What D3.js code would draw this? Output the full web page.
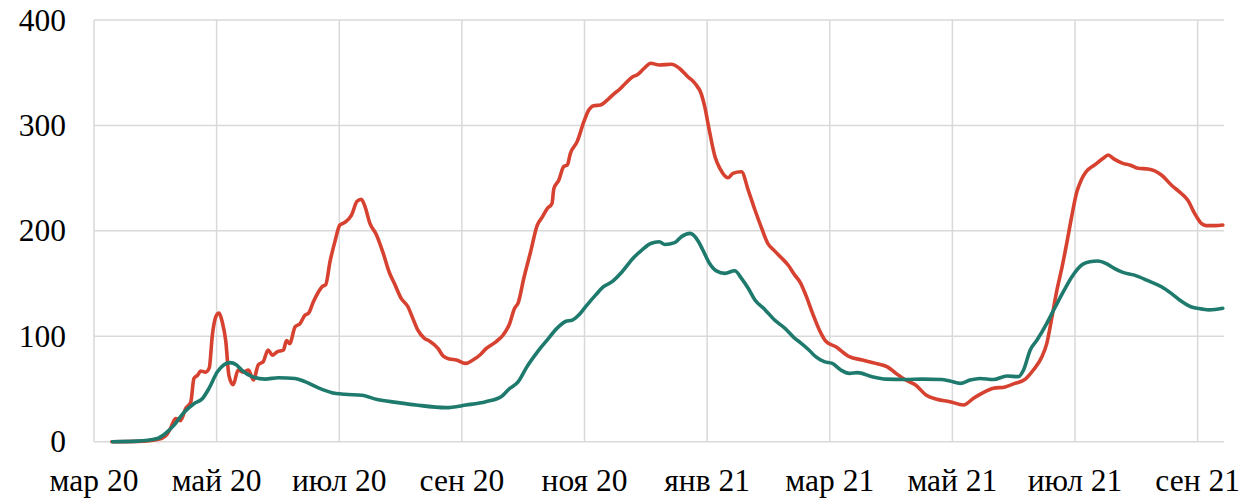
<!DOCTYPE html>
<html>
<head>
<meta charset="utf-8">
<script src="https://cdn.jsdelivr.net/npm/d3@7"></script>
<style>
  html, body { margin: 0; padding: 0; background: #ffffff; }
  svg { display: block; }
  text { font-family: "Liberation Serif", "Times New Roman", Times, serif; }
</style>
</head>
<body>
<svg id="chart" width="1242" height="499"></svg>
<script>
// ---- data ----
// time is expressed in months since 1 March 2020
const tickMonths = [0, 2, 4, 6, 8, 10, 12, 14, 16, 18];
const tickLabels = ["мар 20", "май 20", "июл 20", "сен 20", "ноя 20", "янв 21", "мар 21", "май 21", "июл 21", "сен 21"];
const yTicks = [0, 100, 200, 300, 400];

const redT = [0.29,0.70,0.91,1.03,1.13,1.19,1.25,1.33,1.41,1.50,1.55,1.58,1.63,1.69,1.74,1.82,1.88,1.93,1.99,2.04,2.09,2.15,2.20,2.27,2.35,2.44,2.52,2.60,2.68,2.76,2.84,2.91,2.98,3.09,3.14,3.19,3.28,3.36,3.44,3.50,3.58,3.66,3.72,3.78,3.85,3.93,4.01,4.09,4.20,4.29,4.36,4.42,4.50,4.60,4.71,4.82,4.90,5.01,5.12,5.20,5.28,5.39,5.47,5.61,5.69,5.80,5.91,6.06,6.18,6.29,6.39,6.56,6.67,6.77,6.86,6.92,7.01,7.12,7.23,7.31,7.39,7.47,7.50,7.58,7.66,7.72,7.77,7.88,7.99,8.07,8.15,8.26,8.37,8.48,8.56,8.67,8.78,8.86,8.97,9.08,9.22,9.42,9.55,9.69,9.80,9.91,9.96,10.04,10.13,10.21,10.34,10.42,10.56,10.67,10.78,10.89,10.99,11.10,11.21,11.32,11.43,11.52,11.61,11.72,11.83,11.94,12.10,12.32,12.53,12.75,12.94,13.08,13.24,13.40,13.57,13.73,13.96,14.18,14.34,14.51,14.67,14.86,15.02,15.19,15.32,15.46,15.54,15.62,15.70,15.79,15.87,15.95,16.03,16.10,16.18,16.32,16.46,16.54,16.64,16.78,16.89,17.03,17.19,17.41,17.57,17.73,17.84,17.95,18.06,18.14,18.28,18.41];
const redV = [0,0.3,1,2,4,7,13,22,20,32,35,38,60,63,67,66,70,101,119,122,114,95,63,54,68,66,68,58.5,73,76,87,82,85,87,96,93,109,112,120,122,133,142,147,149,171,190,205.5,208,215,228,230,223,207,197,180,160,150,136,128,117,106,98,95.5,88.5,81.6,78.4,77.5,74.3,77.5,82,88,95,101,110.7,126.5,132,155,180,205.5,213,221,226,240,248,261,262.5,273.5,284.6,303.6,314.6,318.7,319.4,324,330,333.6,340,346,348,354,359,357.3,358,354,346,340,329,318,294,270,259,250.4,254.5,256,238.7,219.8,202.4,188,181,174.5,167.6,158,151,139,121.7,106,95,90,80.6,77.5,74.3,71,64.8,58.5,53.8,44.3,40.5,38,34.8,41,46.8,50.6,52,55.3,59.4,68,80.6,93.3,117,142.3,166,189.7,215,237,248,256,262.5,268.8,272,268,264,262.5,259.3,258.7,253,243.5,235.6,229,216.6,207,205,205,205.5];

const tealT = [0.30,0.70,1.03,1.17,1.31,1.47,1.63,1.77,1.88,2.01,2.12,2.22,2.32,2.41,2.57,2.79,3.01,3.28,3.44,3.66,3.88,4.09,4.37,4.62,4.93,5.25,5.74,6.07,6.39,6.64,6.77,6.92,7.06,7.23,7.39,7.55,7.69,7.80,7.93,8.04,8.18,8.31,8.45,8.61,8.80,8.94,9.08,9.22,9.31,9.47,9.58,9.72,9.86,9.93,10.04,10.15,10.29,10.45,10.56,10.67,10.78,10.94,11.10,11.27,11.43,11.52,11.66,11.77,11.91,12.04,12.18,12.32,12.45,12.69,12.91,13.24,13.51,13.82,13.96,14.13,14.29,14.45,14.67,14.89,15.08,15.16,15.27,15.38,15.54,15.68,15.81,15.95,16.12,16.24,16.37,16.51,16.64,16.78,16.97,17.19,17.41,17.57,17.73,17.89,18.06,18.19,18.41];
const tealV = [0,0.5,3,8,16,28,36,41,51,66,73,75,73,68,62,59.4,60.7,60,57,51,46.5,45,44,40,37.3,34.8,32.3,34.8,38,42.7,50,57,71,85,96.4,107.5,114,115.4,121.7,129.6,139,147,151.8,161,174.5,182,188,189.7,187,188.8,194.5,197.6,189.7,181.8,169,162,159.7,162.2,155,145.5,134.4,125.5,115.4,107.5,98,94,87,80.6,75.9,74.3,68,64.8,65.5,61.7,59.4,59,59.4,59,57.5,55.3,58.5,60,59,62.3,61.7,68,87,96.4,112.3,128,142.3,156.5,168,170.7,171.4,169,164.4,160.6,158,152.7,147,140.7,133.4,128,126,125,126.5];

// ---- drawing ----
const svg = d3.select("#chart");
const plotLeft = 94, plotRight = 1224, plotTop = 20, plotBottom = 441.7;
const x = d3.scaleLinear().domain([0, 18.43]).range([plotLeft, plotRight]);
const y = d3.scaleLinear().domain([0, 400]).range([plotBottom, plotTop]);
const gridColor = "#d9d9d9";

// horizontal gridlines
svg.append("g").selectAll("line").data(yTicks).join("line")
  .attr("x1", plotLeft).attr("x2", plotRight)
  .attr("y1", d => y(d)).attr("y2", d => y(d))
  .attr("stroke", gridColor).attr("stroke-width", 1.5);

// vertical gridlines
svg.append("g").selectAll("line").data(tickMonths).join("line")
  .attr("x1", d => x(d)).attr("x2", d => x(d))
  .attr("y1", plotTop).attr("y2", plotBottom)
  .attr("stroke", gridColor).attr("stroke-width", 1.5);

// y labels
svg.append("g").selectAll("text").data(yTicks).join("text")
  .attr("x", 66).attr("y", d => y(d))
  .attr("text-anchor", "end").attr("dominant-baseline", "central")
  .attr("font-size", 31.5).attr("fill", "#000")
  .text(d => d);

// x labels
svg.append("g").selectAll("text").data(tickMonths).join("text")
  .attr("x", d => x(d)).attr("y", 491)
  .attr("text-anchor", "middle")
  .attr("font-size", 31.5).attr("fill", "#000")
  .text((d, i) => tickLabels[i]);

const line = d3.line().x(d => x(d[0])).y(d => y(d[1])).curve(d3.curveMonotoneX);

svg.append("path")
  .datum(redT.map((t, i) => [t, redV[i]]))
  .attr("d", line).attr("fill", "none")
  .attr("stroke", "#d64130").attr("stroke-width", 3.6)
  .attr("stroke-linejoin", "round").attr("stroke-linecap", "round");

svg.append("path")
  .datum(tealT.map((t, i) => [t, tealV[i]]))
  .attr("d", line).attr("fill", "none")
  .attr("stroke", "#1f7a6e").attr("stroke-width", 3.6)
  .attr("stroke-linejoin", "round").attr("stroke-linecap", "round");
</script>
</body>
</html>
